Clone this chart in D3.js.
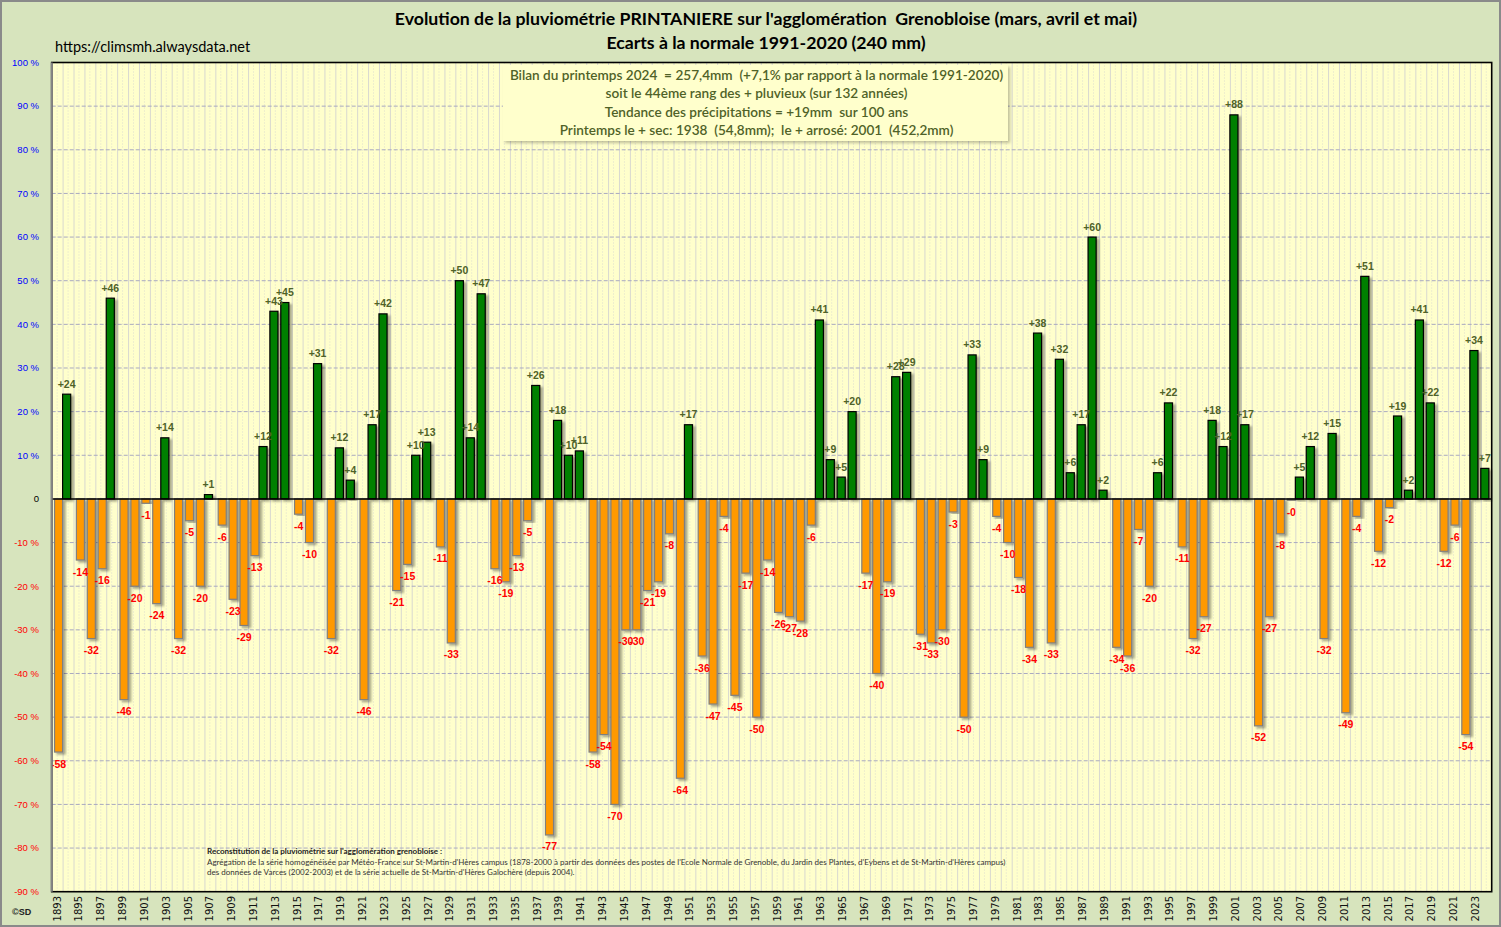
<!DOCTYPE html>
<html><head><meta charset="utf-8">
<script src="https://cdn.jsdelivr.net/npm/d3@7"></script>
<style>body{margin:0;background:#fff} svg{display:block}</style>
</head><body><svg id="c" width="1501" height="927"></svg>
<script>
const years = [1893,1894,1895,1896,1897,1898,1899,1900,1901,1902,1903,1904,1905,1906,1907,1908,1909,1910,
1911,1912,1913,1914,1915,1916,1917,1918,1919,1920,1921,1922,1923,1924,1925,1926,1927,1928,1929,1930,
1931,1932,1933,1934,1935,1936,1937,1938,1939,1940,1941,1942,1943,1944,1945,1946,1947,1948,1949,1950,
1951,1952,1953,1954,1955,1956,1957,1958,1959,1960,1961,1962,1963,1964,1965,1966,1967,1968,1969,1970,
1971,1972,1973,1974,1975,1976,1977,1978,1979,1980,1981,1982,1983,1984,1985,1986,1987,1988,1989,1990,
1991,1992,1993,1994,1995,1996,1997,1998,1999,2000,2001,2002,2003,2004,2005,2006,2007,2008,2009,2010,
2011,2012,2013,2014,2015,2016,2017,2018,2019,2020,2021,2022,2023,2024];
// écart à la normale (%)
const anomalies = [-58,24,-14,-32,-16,46,-46,-20,-1,-24,14,-32,-5,-20,1,-6,-23,-29,
-13,12,43,45,-3.5,-10,31,-32,11.7,4.3,-46,17,42.4,-21,-15,10,13,-11,-33,50,
14,47,-16,-19,-13,-5,26,-77,18,10,11,-58,-54,-70,-30,-30,-21,-19,-8,-64,
17,-36,-47,-4,-45,-17,-50,-14,-26,-27,-28,-6,41,9,5,20,-17,-40,-19,28,
29,-31,-33,-30,-3,-50,33,9,-4,-10,-18,-34,38,-33,32,6,17,60,2,-34,
-36,-7,-20,6,22,-11,-32,-27,18,12,88,17,-52,-27,-8,-0.3,5,12,-32,15,
-49,-4,51,-12,-2,19,2,41,22,-12,-6,-54,34,7];
const yTicks = [-90,-80,-70,-60,-50,-40,-30,-20,-10,0,10,20,30,40,50,60,70,80,90,100];
const titleLines = ["Evolution de la pluviométrie PRINTANIERE sur l'agglomération  Grenobloise (mars, avril et mai)",
  "Ecarts à la normale 1991-2020 (240 mm)"];
const sourceUrl = "https://climsmh.alwaysdata.net";
const infoLines = ["Bilan du printemps 2024  = 257,4mm  (+7,1% par rapport à la normale 1991-2020)",
  "soit le 44ème rang des + pluvieux (sur 132 années)",
  "Tendance des précipitations = +19mm  sur 100 ans",
  "Printemps le + sec: 1938  (54,8mm);  le + arrosé: 2001  (452,2mm)"];
const noteTitle = "Reconstitution de la pluviométrie sur l'agglomération grenobloise :";
const noteLines = ["Agrégation de la série homogénéisée par Météo-France sur St-Martin-d'Hères campus (1878-2000 à partir des données des postes de l'Ecole Normale de Grenoble, du Jardin des Plantes, d'Eybens et de St-Martin-d'Hères campus)",
  "des données de Varces (2002-2003) et de la série actuelle de St-Martin-d'Hères Galochère (depuis 2004)."];
const credit = "©SD";

const W = 1501, H = 927;
const svg = d3.select("#c");
const defs = svg.append("defs");
const f = defs.append("filter").attr("id","sh").attr("x","-50%").attr("y","-10%").attr("width","200%").attr("height","120%");
f.append("feDropShadow").attr("dx",2.5).attr("dy",2).attr("stdDeviation",1.2).attr("flood-color","#000").attr("flood-opacity",0.35);
const f2 = defs.append("filter").attr("id","sh2").attr("x","-10%").attr("y","-10%").attr("width","120%").attr("height","140%");
f2.append("feDropShadow").attr("dx",2).attr("dy",2).attr("stdDeviation",1.5).attr("flood-color","#000").attr("flood-opacity",0.25);

svg.append("rect").attr("x",0).attr("y",0).attr("width",W).attr("height",H).attr("fill","#D7E4BD");
svg.append("rect").attr("x",1).attr("y",1).attr("width",W-2).attr("height",H-2).attr("fill","none").attr("stroke","#8a8a8a").attr("stroke-width",2);

const L = 51.7, R = 1491.7, T = 62.5, B = 891.7;
const x = d3.scaleBand().domain(years).range([L, R]).padding(0);
const y = d3.scaleLinear().domain([-90, 100]).range([B, T]);
const bwid = x.bandwidth();

svg.append("rect").attr("x",L).attr("y",T).attr("width",R-L).attr("height",B-T).attr("fill","#FFFFCC");

// vertical grid
const g = svg.append("g");
g.selectAll("line.vmaj").data(years).join("line")
  .attr("x1",d=>x(d)+0.5).attr("x2",d=>x(d)+0.5).attr("y1",T).attr("y2",B)
  .attr("stroke","#d8d8d0").attr("stroke-width",1);
g.selectAll("line.vmin").data(years).join("line")
  .attr("x1",d=>x(d)+bwid/2).attr("x2",d=>x(d)+bwid/2).attr("y1",T).attr("y2",B)
  .attr("stroke","#dcdcd0").attr("stroke-width",1).attr("stroke-dasharray","1,2");
// horizontal grid
g.selectAll("line.h").data(yTicks.filter(d=>d!==0&&d!==-90&&d!==100)).join("line")
  .attr("x1",L).attr("x2",R).attr("y1",d=>y(d)).attr("y2",d=>y(d))
  .attr("stroke","#a9a9c0").attr("stroke-width",1).attr("stroke-dasharray","4,2");

// info box
const bx = 503, by = 65, bwBox = 505, bhBox = 76;
svg.append("rect").attr("x",bx).attr("y",by).attr("width",bwBox).attr("height",bhBox)
  .attr("fill","#FFFFCC").attr("filter","url(#sh2)");
svg.append("g").selectAll("text").data(infoLines).join("text")
  .attr("x",bx+bwBox/2+1).attr("y",(d,i)=>by+15+i*18.3)
  .attr("text-anchor","middle").attr("font-family","Lato").attr("font-size",13.6).attr("font-weight",600)
  .attr("fill","#4F6228").style("white-space","pre").text(d=>d);

// bars
const bars = svg.append("g");
bars.selectAll("rect").data(years.map((yr,i)=>({yr, v:anomalies[i]}))).join("rect")
  .attr("x",d=> d.v>=0 ? x(d.yr) : x(d.yr)+bwid-bwid*0.74)
  .attr("width",bwid*0.74)
  .attr("y",d=>Math.min(y(d.v),y(0)))
  .attr("height",d=>Math.abs(y(d.v)-y(0)))
  .attr("fill",d=>d.v>=0?"#008000":"#FF9900")
  .attr("stroke",d=>d.v>=0?"#000":"#7f7f7f")
  .attr("stroke-width",1.2)
  .attr("filter","url(#sh)");

// labels
const fmt = v => (v>=0?"+":"-") + Math.round(Math.abs(v));
svg.append("g").selectAll("text").data(years.map((yr,i)=>({yr, v:anomalies[i]}))).join("text")
  .attr("x",d=> d.v>=0 ? x(d.yr)+bwid*0.37 : x(d.yr)+bwid-bwid*0.37)
  .attr("y",d=> d.v>=0 ? y(d.v)-6.5 : y(d.v)+15.5)
  .attr("text-anchor","middle").attr("font-family","Liberation Sans").attr("font-size",10.5).attr("font-weight","bold")
  .attr("fill",d=>d.v>=0?"#4F6228":"#FF0000").text(d=>fmt(d.v));

// zero line & frame
svg.append("line").attr("x1",L).attr("x2",R).attr("y1",y(0)).attr("y2",y(0)).attr("stroke","#000").attr("stroke-width",1.5);
svg.append("rect").attr("x",L).attr("y",T).attr("width",R-L).attr("height",B-T).attr("fill","none").attr("stroke","#000").attr("stroke-width",1.6);
svg.append("line").attr("x1",L).attr("x2",L).attr("y1",T).attr("y2",B).attr("stroke","#868686").attr("stroke-width",2);

// y axis labels
svg.append("g").selectAll("text").data(yTicks).join("text")
  .attr("x",39).attr("y",d=>y(d)).attr("dy","0.35em").attr("text-anchor","end")
  .attr("font-family","Liberation Sans").attr("font-size",9.5)
  .attr("fill",d=>d>0?"#0000FF":(d<0?"#FF0000":"#000"))
  .text(d=>d===0?"0":d+" %");

// x axis labels
const xLab = years.filter((d,i)=>i%2===0);
svg.append("g").selectAll("text").data(xLab).join("text")
  .attr("transform",d=>`translate(${x(d)+bwid/2},896) rotate(-90)`)
  .attr("dy","0.35em").attr("text-anchor","end")
  .attr("font-family","DejaVu Sans").attr("font-size",10).attr("fill","#111").text(d=>d);

// titles
svg.append("g").selectAll("text").data(titleLines).join("text")
  .attr("x",766).attr("y",(d,i)=>25+i*24).attr("text-anchor","middle")
  .attr("font-family","Lato").attr("font-size",17.7).attr("font-weight","bold").attr("fill","#000")
  .style("white-space","pre").text(d=>d);
svg.append("text").attr("x",55).attr("y",52).attr("font-family","Lato").attr("font-size",14.5).attr("fill","#000").text(sourceUrl);

// note
svg.append("text").attr("x",207).attr("y",854).attr("font-family","Lato").attr("font-size",8).attr("font-weight","bold").attr("fill","#222").text(noteTitle);
svg.append("g").selectAll("text").data(noteLines).join("text")
  .attr("x",207).attr("y",(d,i)=>864.5+i*10).attr("font-family","Lato").attr("font-size",8).attr("fill","#333").text(d=>d);

svg.append("text").attr("x",12).attr("y",915).attr("font-family","Liberation Sans").attr("font-size",9).attr("font-weight","bold").attr("fill","#222").text(credit);
</script></body></html>
